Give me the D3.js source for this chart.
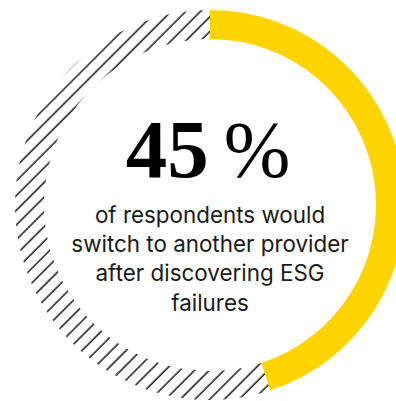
<!DOCTYPE html>
<html>
<head>
<meta charset="utf-8">
<script src="https://cdn.jsdelivr.net/npm/d3@7"></script>
<style>
  html, body { margin: 0; padding: 0; background: #fff; }
  svg { display: block; }
</style>
</head>
<body>
<div id="chart"></div>
<script>
// Share of respondents vs. the rest
const shareValue = 45;
const segments = [
  { key: "switch", value: shareValue },
  { key: "rest", value: 100 - shareValue }
];
const headline = shareValue + "";
const headlineUnit = "%";
const captionLines = [
  "of respondents would",
  "switch to another provider",
  "after discovering ESG",
  "failures"
];

const width = 396, height = 401;
const cx = 210, cy = 205;
const outerR = 195, innerR = 166;

const svg = d3.select("#chart").append("svg")
  .attr("width", width)
  .attr("height", height);

// Diagonal hatch used for the remainder of the ring
const defs = svg.append("defs");
const pat = defs.append("pattern")
  .attr("id", "hatch")
  .attr("patternUnits", "userSpaceOnUse")
  .attr("width", 10.4)
  .attr("height", 10.4)
  .attr("patternTransform", "rotate(45)");
pat.append("line")
  .attr("x1", 2).attr("y1", -1)
  .attr("x2", 2).attr("y2", 12)
  .attr("stroke", "#000")
  .attr("stroke-width", 1.35);

const pie = d3.pie().sort(null).value(d => d.value);
const arc = d3.arc().innerRadius(innerR).outerRadius(outerR);

const g = svg.append("g").attr("transform", `translate(${cx},${cy})`);
g.selectAll("path")
  .data(pie(segments))
  .join("path")
  .attr("d", arc)
  .attr("fill", d => d.data.key === "switch" ? "#FFD400" : "url(#hatch)");

// Big figure
const big = svg.append("text")
  .attr("x", cx - 2)
  .attr("y", 177)
  .attr("text-anchor", "middle")
  .attr("font-family", "'Liberation Serif', 'DejaVu Serif', serif")
  .attr("font-size", 83)
  .attr("fill", "#000");
big.append("tspan").attr("font-weight", 700).text(headline);
big.append("tspan").attr("font-weight", 400).attr("dx", 15).attr("font-size", 80).text(headlineUnit);

// Caption
svg.append("g")
  .selectAll("text")
  .data(captionLines)
  .join("text")
  .attr("x", cx)
  .attr("y", (d, i) => 223 + i * 29.2)
  .attr("text-anchor", "middle")
  .attr("font-family", "Inter, 'Noto Sans', sans-serif")
  .attr("font-size", 22.4)
  .attr("fill", "#1a1a1a")
  .text(d => d);
</script>
</body>
</html>
